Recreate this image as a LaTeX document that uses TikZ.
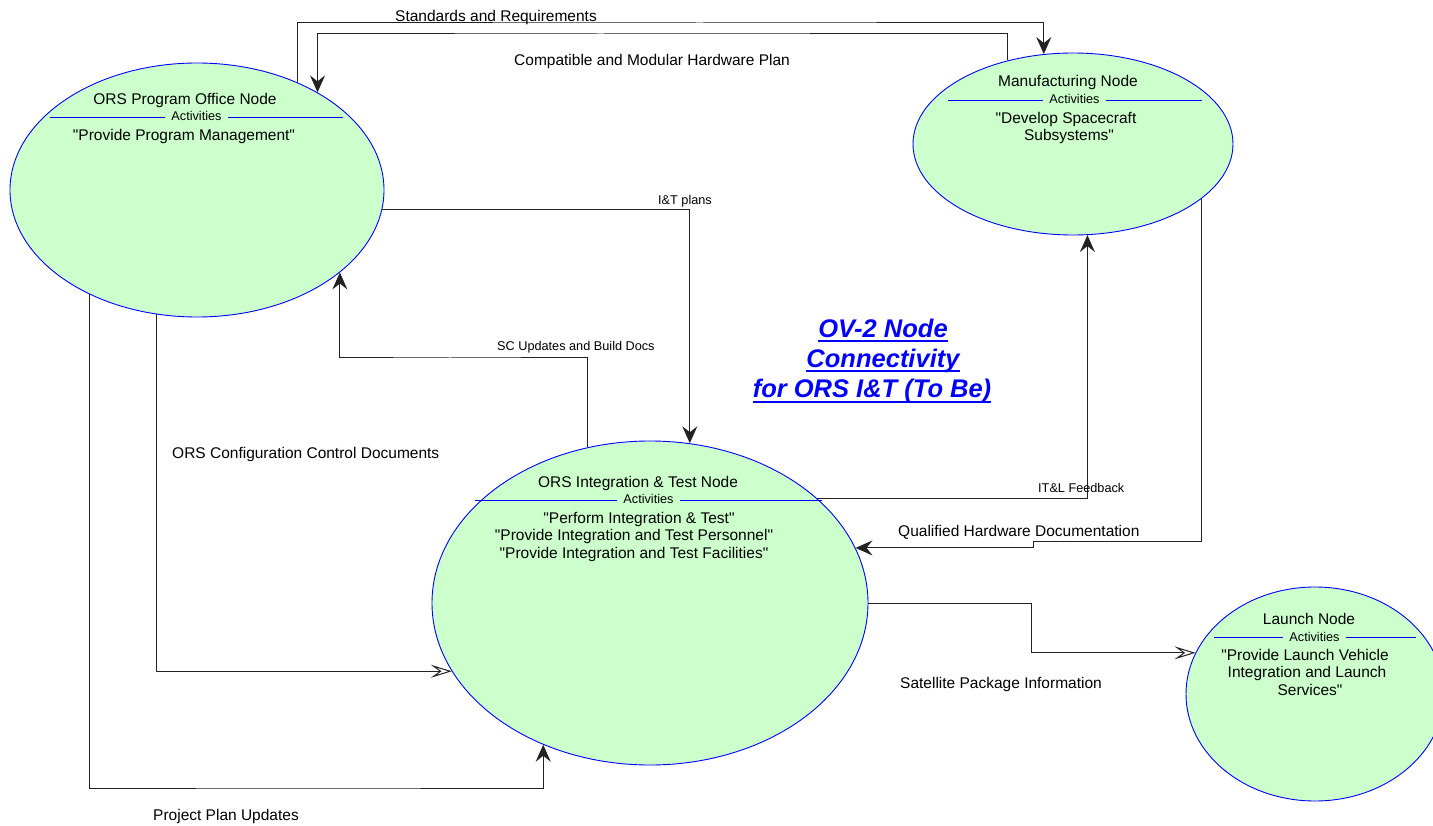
\documentclass[tikz,border=0pt]{standalone}
\usepackage{fontspec}
\setmainfont{Liberation Sans}[Ligatures=TeXOff]
\usetikzlibrary{arrows.meta,shapes.geometric}
\definecolor{nodegreen}{HTML}{CCFFCC}
\definecolor{nodeblue}{HTML}{0000FF}
\definecolor{wire}{HTML}{222222}

\begin{document}
\begin{tikzpicture}[x=1pt,y=-1pt,
  opnode/.style={ellipse, draw=nodeblue, fill=nodegreen, line width=0.9pt, inner sep=0pt},
  nodetitle/.style={anchor=base, inner sep=0pt, font=\fontsize{15.5}{17}\selectfont},
  acttext/.style={anchor=base, inner sep=0pt, font=\fontsize{15.5}{17}\selectfont},
  actlabel/.style={anchor=base, fill=nodegreen, inner xsep=6.5pt, inner ysep=1pt, font=\fontsize{12.7}{14}\selectfont},
  divider/.style={draw=nodeblue, line width=0.9pt},
  flow/.style={draw=wire, line width=1pt},
  solidtip/.style={-{Stealth[length=17pt,width=15pt,inset=6pt]}},
  opentip/.style={-{Stealth[length=21pt,width=13pt,inset=9pt,fill=white]}},
  flowlabel/.style={anchor=base west, inner sep=0pt, font=\fontsize{15.5}{17}\selectfont},
  smalllabel/.style={anchor=base west, inner sep=0pt, font=\fontsize{12.7}{14}\selectfont},
  titletext/.style={anchor=base, inner sep=0pt, text=nodeblue, font=\fontsize{25.5}{30}\selectfont\bfseries\itshape},
  titlerule/.style={draw=nodeblue, line width=2pt},
]
\fill[white] (0,0) rectangle (1433,826);
\useasboundingbox (0,0) rectangle (1433,826);

% operational nodes
\node[opnode, minimum width=374pt, minimum height=254pt] (office) at (197,190) {};
\node[opnode, minimum width=320pt, minimum height=182pt] (mfg) at (1073,144) {};
\node[opnode, minimum width=436pt, minimum height=324pt] (itn) at (650,603) {};
\node[opnode, minimum width=258pt, minimum height=214pt] (launch) at (1315,694) {};

% ORS Program Office Node
\node[nodetitle] (officetitle) at (185,104.5) {ORS Program Office Node};
\draw[divider] (50,117) -- (343,117);
\node[actlabel] (officeact) at (196.5,120.5) {Activities};
\node[acttext] (officeline1) at (184,140.5) {"Provide Program Management"};

% Manufacturing Node
\node[nodetitle] (mfgtitle) at (1068,86.5) {Manufacturing Node};
\draw[divider] (948,100) -- (1202,100);
\node[actlabel] (mfgact) at (1074.5,103.5) {Activities};
\node[acttext] (mfgline1) at (1066,123.5) {"Develop Spacecraft};
\node[acttext] (mfgline2) at (1069,140.5) {Subsystems"};

% ORS Integration & Test Node
\node[nodetitle] (itntitle) at (638,487.5) {ORS Integration \& Test Node};
\draw[divider] (475,500) -- (822,500);
\node[actlabel] (itnact) at (648.5,503.5) {Activities};
\node[acttext] (itnline1) at (639,523.5) {"Perform Integration \& Test"};
\node[acttext] (itnline2) at (634,540.5) {"Provide Integration and Test Personnel"};
\node[acttext] (itnline3) at (634,558) {"Provide Integration and Test Facilities"};

% Launch Node
\node[nodetitle] (launchtitle) at (1309,624.5) {Launch Node};
\draw[divider] (1214,637) -- (1416,637);
\node[actlabel] (launchact) at (1314.5,641.5) {Activities};
\node[acttext] (launchline1) at (1305,660.5) {"Provide Launch Vehicle};
\node[acttext] (launchline2) at (1307,677.5) {Integration and Launch};
\node[acttext] (launchline3) at (1310,695) {Services"};

% bend points of the routed connectors
\coordinate (stdy) at (700,23);
\coordinate (cmpy) at (600,34);
\coordinate (scy) at (450,358);
\coordinate (ppy) at (300,788);
\coordinate (satx) at (1031,603);
\coordinate (qhx) at (1033,541);

% information exchanges
\draw[flow,solidtip] (office.47.0) |- (stdy) -| (mfg.108.55);
\draw[flow,solidtip] (mfg.128.52) |- (cmpy) -| (office.39.9);
\draw[flow,solidtip] (office.-6.81) -| (itn.76.6);
\draw[flow,solidtip] (itn.112.11) |- (scy) -| (office.-30.6);
\draw[flow,opentip] (office.-108.74) |- (itn.-161.35);
\draw[flow,solidtip] (office.-136.96) |- (ppy) -| (itn.-127.84);
\draw[flow,opentip] (itn.0) -- (itn.0 -| satx) |- (launch.161);
\draw[flow,solidtip] (mfg.-23.57) |- (qhx) |- (itn.15.91);
\draw[flow,solidtip] (itn.32.31) -| (mfg.-81.84);

% exchange labels
\node[flowlabel] (stdlbl) at (395,21.5) {Standards and Requirements};
\node[flowlabel] (cmplbl) at (514,66) {Compatible and Modular Hardware Plan};
\node[smalllabel] (itplbl) at (658,205) {I\&T plans};
\node[smalllabel] (sclbl) at (497,351) {SC Updates and Build Docs};
\node[flowlabel] (cfglbl) at (172,458) {ORS Configuration Control Documents};
\node[smalllabel] (fblbl) at (1038,492) {IT\&L Feedback};
\node[flowlabel] (qhlbl) at (898,536) {Qualified Hardware Documentation};
\node[flowlabel] (satlbl) at (900,688) {Satellite Package Information};
\node[flowlabel] (pplbl) at (153,820) {Project Plan Updates};

% diagram title
\node[titletext] (title1) at (883,338) {OV-2 Node};
\node[titletext] (title2) at (883,368) {Connectivity};
\node[titletext] (title3) at (872,398) {for ORS I\&T (To Be)};
\foreach \t in {title1,title2,title3}
  \draw[titlerule] ([yshift=-3.5pt]\t.base west) -- ([yshift=-3.5pt]\t.base east);
\end{tikzpicture}
\end{document}
